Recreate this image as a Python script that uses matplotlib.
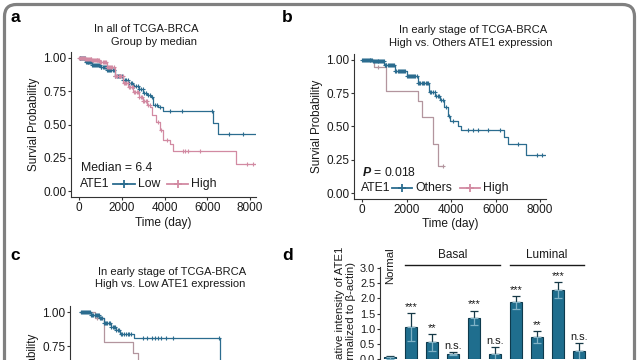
import matplotlib
matplotlib.use('Agg')
import matplotlib.pyplot as plt
import numpy as np
from matplotlib.patches import FancyBboxPatch
from matplotlib.lines import Line2D
from matplotlib.transforms import IdentityTransform

plt.rcParams['font.family'] = ['Liberation Sans', 'DejaVu Sans']
plt.rcParams['mathtext.fontset'] = 'custom'
plt.rcParams['mathtext.it'] = 'Liberation Sans:italic:bold'

# ---------------- data ----------------
# panel a: all TCGA-BRCA, group by median
a_low_t = [0, 300, 600, 1000, 1300, 1680, 2060, 2300, 2530, 2800, 3000, 3200, 3390, 3470, 3700, 3930, 6280, 6500]
a_low_s = [1.00, 0.97, 0.95, 0.93, 0.91, 0.865, 0.835, 0.815, 0.79, 0.765, 0.74, 0.725, 0.71, 0.65, 0.63, 0.60, 0.51, 0.43]
a_low_end = 8280
a_low_cens = [30, 70, 110, 150, 190, 230, 270, 320, 360, 400, 440, 490, 530, 570, 620, 660, 700, 750,
              790, 830, 880, 920, 960, 1010, 1050, 1100, 1150, 1200, 1250, 1300, 1350, 1400, 1460,
              1520, 1580, 1640, 1700, 1760, 1820, 1880, 1940, 2000, 2060, 2130, 2200, 2270, 2340,
              2420, 2500, 2580, 2660, 2740, 2820, 2900, 2980, 3060, 3140, 3220, 3300, 3400, 3550,
              3650, 3800, 4250, 4820, 6220, 7020, 7680]
a_high_t = [0, 300, 600, 1000, 1300, 1680, 2060, 2300, 2530, 2800, 3000, 3200, 3340, 3420, 3620, 3780, 3930, 4240, 4400, 7340]
a_high_s = [1.00, 0.99, 0.985, 0.97, 0.93, 0.865, 0.81, 0.78, 0.745, 0.71, 0.68, 0.65, 0.63, 0.57, 0.52, 0.46, 0.38, 0.35, 0.30, 0.20]
a_high_end = 8280
a_high_cens = [20, 60, 100, 140, 180, 220, 260, 300, 340, 380, 420, 460, 500, 540, 580, 620, 660,
               700, 740, 780, 820, 860, 900, 950, 1000, 1050, 1100, 1150, 1200, 1250, 1300, 1350,
               1400, 1450, 1500, 1560, 1620, 1680, 1740, 1800, 1860, 1920, 1980, 2040, 2100, 2160,
               2220, 2280, 2340, 2400, 2460, 2520, 2580, 2640, 2700, 2760, 2820, 2880, 2940, 3000,
               3060, 3120, 3180, 3240, 3300, 3700, 3850, 4100, 4870, 4950, 5100, 5660, 7860, 8140]

# panel b: early stage, High vs Others
b_oth_t = [0, 500, 1000, 1500, 2000, 2500, 3000, 3300, 3500, 3700, 3850, 3950, 4300, 4450, 6400, 6550, 7350]
b_oth_s = [1.00, 0.99, 0.96, 0.92, 0.88, 0.83, 0.76, 0.73, 0.70, 0.65, 0.58, 0.54, 0.50, 0.47, 0.42, 0.37, 0.285]
b_oth_end = 8300
b_oth_cens = [20, 60, 100, 140, 180, 220, 260, 300, 340, 380, 420, 460, 500, 540, 580, 620, 660, 700,
              740, 780, 820, 860, 900, 940, 980, 1020, 1060, 1100, 1150, 1200, 1250, 1300, 1350, 1400,
              1450, 1500, 1550, 1600, 1650, 1700, 1750, 1800, 1850, 1900, 1950, 2000, 2050, 2100,
              2150, 2200, 2250, 2300, 2350, 2400, 2450, 2500, 2560, 2620, 2680, 2740, 2800, 2860,
              2920, 2980, 3050, 3120, 3190, 3260, 3330, 3400, 3480, 3560, 3640, 3760, 3900, 4100,
              4760, 5000, 5210, 5660, 6200, 7010, 7870, 8090]
b_high_t = [0, 550, 1080, 2500, 2700, 3200, 3400]
b_high_s = [1.00, 0.95, 0.77, 0.69, 0.57, 0.37, 0.20]
b_high_end = 3640
b_high_cens = [700, 3640]

# panel c: early stage, High vs Low
c_low_t = [0, 500, 900, 1100, 1450, 1700, 1870, 2500, 6540]
c_low_s = [1.00, 0.98, 0.96, 0.92, 0.89, 0.87, 0.84, 0.81, 0.45]
c_low_end = 8200
c_low_cens = [30, 80, 130, 180, 230, 280, 330, 380, 430, 480, 530, 580, 630, 680, 730, 780, 830, 880,
              930, 980, 1040, 1100, 1160, 1220, 1280, 1340, 1400, 1460, 1520, 1580, 1640, 1700,
              1760, 1820, 1900, 1980, 2060, 2140, 2220, 2300, 2400, 2950, 3150, 3350, 3500, 3650,
              3800, 4000, 4350, 6500]
c_high_t = [0, 700, 1100, 2480, 2710, 3300]
c_high_s = [1.00, 0.96, 0.78, 0.70, 0.55, 0.40]
c_high_end = 4000
c_high_cens = [800]

# panel d: western blot quantification
d_groups = ["Normal", "Basal", "Basal", "Basal", "Basal", "Basal", "Luminal", "Luminal", "Luminal", "Luminal"]
d_values = [0.05, 1.05, 0.55, 0.18, 1.36, 0.18, 1.87, 0.73, 2.28, 0.25]
d_errors = [0.05, 0.47, 0.28, 0.06, 0.24, 0.22, 0.21, 0.20, 0.27, 0.27]
d_sig = ["", "***", "**", "n.s.", "***", "n.s.", "***", "**", "***", "n.s."]
y_ticks_km = [0.00, 0.25, 0.50, 0.75, 1.00]
x_ticks_km = [0, 2000, 4000, 6000, 8000]
d_yticks = [0.0, 0.5, 1.0, 1.5, 2.0, 2.5, 3.0]

# ---------------- style ----------------
BLUE = "#2b6c8f"
PINK = "#d28aa2"
PINK_B = "#b3959e"
TXT = "#1a1a1a"
SP = "#333333"

W, H = 640, 360
fig = plt.figure(figsize=(6.4, 3.6), dpi=100)


def ax_px(l, t, r, b):
    return fig.add_axes([l / W, 1 - b / H, (r - l) / W, (b - t) / H])


def ftext(x, y, s, **kw):
    kw.setdefault('color', TXT)
    fig.text(x / W, 1 - y / H, s, **kw)


def style_axes(ax, fs=8.5):
    for k in ['top', 'right']:
        ax.spines[k].set_visible(False)
    for k in ['left', 'bottom']:
        ax.spines[k].set_color(SP)
        ax.spines[k].set_linewidth(0.8)
    ax.tick_params(length=2.2, width=0.8, color=SP, labelsize=fs, labelcolor=TXT, pad=1.2)


def km(ax, t, s, t_end, cens, color, lw=0.9, ms=2.6):
    tt = list(t) + [t_end]
    ss = list(s) + [s[-1]]
    ax.step(tt, ss, where='post', color=color, lw=lw, clip_on=True)
    ct = np.array(cens)
    idx = np.searchsorted(np.array(t), ct, side='right') - 1
    ax.plot(ct, np.array(s)[idx], ls='none', marker='+', ms=ms, mew=0.8, color=color)


def key(x1, x2, y, color):
    yy = 1 - y / H
    fig.add_artist(Line2D([x1 / W, x2 / W], [yy, yy], transform=fig.transFigure, color=color, lw=1.3))
    fig.add_artist(Line2D([(x1 + x2) / 2 / W], [yy], transform=fig.transFigure, color=color,
                          marker='+', ms=6, mew=1.3, ls='none'))


def km_axes(ax, x0_px, px_per_1000, l_px, r_px):
    ax.set_xlim((l_px - x0_px) / px_per_1000 * 1000, (r_px - x0_px) / px_per_1000 * 1000)
    ax.set_ylim(-0.045, 1.045)
    ax.set_xticks(x_ticks_km)
    ax.set_yticks(y_ticks_km)
    ax.set_yticklabels([f"{v:.2f}" for v in y_ticks_km])
    style_axes(ax)


# ---------------- panel a ----------------
axa = ax_px(71, 52, 256, 197)
km_axes(axa, 79, 21.375, 71, 256)
km(axa, a_low_t, a_low_s, a_low_end, a_low_cens, BLUE)
km(axa, a_high_t, a_high_s, a_high_end, a_high_cens, PINK)
axa.set_xlabel("Time (day)", fontsize=8.6, color=TXT, labelpad=2)
axa.set_ylabel("Survial Probability", fontsize=8.4, color=TXT, labelpad=2)
ftext(146, 29, "In all of TCGA-BRCA", fontsize=8, ha='center', va='center')
ftext(154, 42, "Group by median", fontsize=8, ha='center', va='center')
ftext(81, 168, "Median = 6.4", fontsize=8.8, ha='left', va='center')
ftext(80, 184, "ATE1", fontsize=8.8, ha='left', va='center')
key(113, 135, 184, BLUE)
ftext(138, 184, "Low", fontsize=8.8, ha='left', va='center')
key(167, 188, 184, PINK)
ftext(191, 184, "High", fontsize=8.8, ha='left', va='center')

# ---------------- panel b ----------------
axb = ax_px(354, 54, 546, 199)
km_axes(axb, 362, 22.25, 354, 546)
km(axb, b_high_t, b_high_s, b_high_end, b_high_cens, PINK_B)
km(axb, b_oth_t, b_oth_s, b_oth_end, b_oth_cens, BLUE)
axb.set_xlabel("Time (day)", fontsize=8.6, color=TXT, labelpad=2)
axb.set_ylabel("Survial Probability", fontsize=8.4, color=TXT, labelpad=2)
ftext(473, 30, "In early stage of TCGA-BRCA", fontsize=8, ha='center', va='center')
ftext(470.5, 43, "High vs. Others ATE1 expression", fontsize=8, ha='center', va='center')
ftext(362, 172, r"$P$ = 0.018", fontsize=8.8, ha='left', va='center')
ftext(361, 188, "ATE1", fontsize=8.8, ha='left', va='center')
key(392, 412, 188, BLUE)
ftext(415, 188, "Others", fontsize=8.8, ha='left', va='center')
key(460, 480, 188, PINK)
ftext(483, 188, "High", fontsize=8.8, ha='left', va='center')

# ---------------- panel c ----------------
axc = ax_px(70, 306, 256, 454)
km_axes(axc, 80, 21.4, 70, 256)
axc.tick_params(axis='x', labelbottom=False)
km(axc, c_high_t, c_high_s, c_high_end, c_high_cens, PINK_B)
km(axc, c_low_t, c_low_s, c_low_end, c_low_cens, BLUE)
axc.set_ylabel("Survial Probability", fontsize=8.4, color=TXT, labelpad=2)
ftext(172, 272, "In early stage of TCGA-BRCA", fontsize=8, ha='center', va='center')
ftext(170, 284, "High vs. Low ATE1 expression", fontsize=8, ha='center', va='center')

# ---------------- panel d ----------------
axd = ax_px(380, 267, 600, 359)
x = np.arange(len(d_values))
axd.bar(x, d_values, width=0.6, color="#1f6e8e", edgecolor="#0e3a4d", linewidth=0.8, zorder=2)
vals = np.array(d_values)
errs = np.array(d_errors)
axd.errorbar(x, vals, yerr=[np.zeros_like(errs), errs], fmt='none', ecolor="#163846",
             elinewidth=0.9, capsize=3, capthick=0.9, zorder=3)
axd.errorbar(x, vals, yerr=[errs, np.zeros_like(errs)], fmt='none', ecolor="#7fb2c6",
             elinewidth=0.9, capsize=3, capthick=0.9, zorder=3)
axd.set_xlim(-0.48, 10)
axd.set_ylim(0, 3.04)
axd.set_yticks(d_yticks)
axd.set_yticklabels([f"{v:.1f}" for v in d_yticks])
axd.set_xticks([])
style_axes(axd, fs=7.9)
axd.spines['bottom'].set_visible(False)
for i, s in enumerate(d_sig):
    if s:
        axd.text(x[i], vals[i] + errs[i] + 0.04, s, ha='center', va='bottom', fontsize=7.9,
                 color=TXT, clip_on=False)
axd.text(x[0], 3.07, d_groups[0], rotation=90, ha='center', va='center', fontsize=8.2, color=TXT,
         clip_on=False)
for g in ["Basal", "Luminal"]:
    idx = [i for i, gg in enumerate(d_groups) if gg == g]
    x1, x2 = idx[0] - 0.3, idx[-1] + 0.25
    axd.plot([x1, x2], [3.12, 3.12], color=TXT, lw=1.0, clip_on=False)
    axd.text((x1 + x2) / 2, 3.45, g, ha='center', va='center', fontsize=8.5, color=TXT, clip_on=False)
ftext(340, 247, "Relative intensity of ATE1", rotation=90, ha='center', va='top', fontsize=8.2)
ftext(351, 262, "(Normalized to β-actin)", rotation=90, ha='center', va='top', fontsize=8.2)

# ---------------- panel letters ----------------
for lx, ly, lab in [(15, 17, 'a'), (287, 17, 'b'), (15, 255, 'c'), (288, 255, 'd')]:
    ftext(lx, ly, lab, fontsize=12.5, fontweight='bold', ha='center', va='center', color='black')

# ---------------- frame ----------------
frame = FancyBboxPatch((4.5, -60), 630, 360 - 4.5 + 60, boxstyle="round,pad=0,rounding_size=12",
                       transform=IdentityTransform(), facecolor='none', edgecolor='#808080', linewidth=2.3)
fig.add_artist(frame)

fig.savefig("out.png", dpi=100)
